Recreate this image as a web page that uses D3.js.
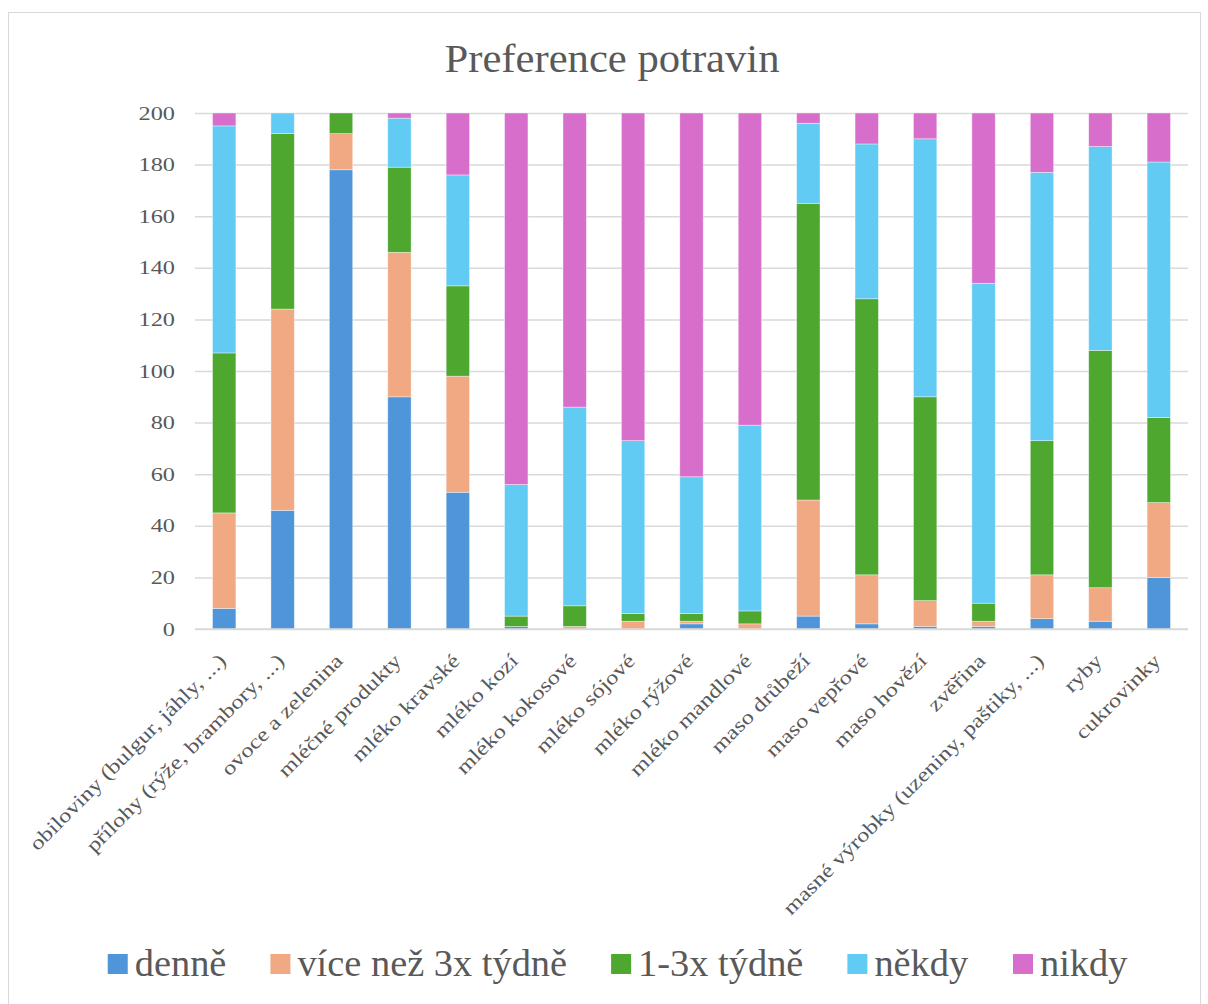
<!DOCTYPE html>
<html>
<head>
<meta charset="utf-8">
<script src="https://cdn.jsdelivr.net/npm/d3@7"></script>
<style>
  html, body { margin: 0; padding: 0; background: #fff; }
  svg { display: block; }
</style>
</head>
<body>
<svg id="chart" width="1208" height="1004"></svg>
<script>
const title = "Preference potravin";
const categories = [
  "obiloviny (bulgur, jáhly, ...)",
  "přílohy (rýže, brambory, ...)",
  "ovoce a zelenina",
  "mléčné produkty",
  "mléko kravské",
  "mléko kozí",
  "mléko kokosové",
  "mléko sójové",
  "mléko rýžové",
  "mléko mandlové",
  "maso drůbeží",
  "maso vepřové",
  "maso hovězí",
  "zvěřina",
  "masné výrobky (uzeniny, paštiky, ...)",
  "ryby",
  "cukrovinky"
];
const seriesNames = ["denně", "více než 3x týdně", "1-3x týdně", "někdy", "nikdy"];
const denne  = [8, 46, 178, 90, 53, 1, 0, 0, 2, 0, 5, 2, 1, 1, 4, 3, 20];
const vice   = [37, 78, 14, 56, 45, 0, 1, 3, 1, 2, 45, 19, 10, 2, 17, 13, 29];
const tyden  = [62, 68, 8, 33, 35, 4, 8, 3, 3, 5, 115, 107, 79, 7, 52, 92, 33];
const nekdy  = [88, 8, 0, 19, 43, 51, 77, 67, 53, 72, 31, 60, 100, 124, 104, 79, 99];
const nikdy  = [5, 0, 0, 2, 24, 144, 114, 127, 141, 121, 4, 12, 10, 66, 23, 13, 19];
const yTicks = [0, 20, 40, 60, 80, 100, 120, 140, 160, 180, 200];
const colors = ["#4E95D9", "#F1A983", "#4EA72E", "#61CBF3", "#D86ECC"];

const seriesValues = [denne, vice, tyden, nekdy, nikdy];
const keys = ["s0", "s1", "s2", "s3", "s4"];
const rows = categories.map((c, i) => {
  const r = { cat: c };
  keys.forEach((k, j) => r[k] = seriesValues[j][i]);
  return r;
});

const svg = d3.select("#chart");
const font = "'Liberation Serif', 'Times New Roman', serif";
const textColor = "#595959";

// chart border
svg.append("rect")
  .attr("x", 8.5).attr("y", 12.5)
  .attr("width", 1192).attr("height", 1000)
  .attr("fill", "none").attr("stroke", "#d9d9d9").attr("stroke-width", 1);

const plot = { left: 195, right: 1188, top: 113, bottom: 629 };

const x = d3.scaleBand()
  .domain(categories)
  .range([plot.left, plot.right])
  .paddingInner(0.6)
  .paddingOuter(0.3);

const y = d3.scaleLinear()
  .domain([0, 200])
  .range([plot.bottom, plot.top]);

// title
svg.append("text")
  .attr("x", 612).attr("y", 72)
  .attr("text-anchor", "middle")
  .attr("font-family", font)
  .attr("font-size", 40)
  .attr("textLength", 335)
  .attr("lengthAdjust", "spacingAndGlyphs")
  .attr("fill", textColor)
  .text(title);

// gridlines + y labels
const yAxis = d3.axisLeft(y)
  .tickValues(yTicks)
  .tickSize(-(plot.right - plot.left))
  .tickPadding(0)
  .tickFormat(d3.format("d"));

const gy = svg.append("g")
  .attr("transform", `translate(${plot.left},0)`)
  .call(yAxis);
gy.select(".domain").remove();
gy.selectAll(".tick line")
  .attr("stroke", "#d9d9d9")
  .attr("stroke-width", 1.5);
gy.selectAll(".tick text")
  .attr("x", null)
  .attr("transform", "translate(-20,0) scale(1.28,1)")
  .attr("font-family", font)
  .attr("font-size", 19)
  .attr("fill", textColor);

// bars
const stacked = d3.stack().keys(keys)(rows);

svg.append("g")
  .selectAll("g")
  .data(stacked)
  .join("g")
  .attr("fill", (d, i) => colors[i])
  .selectAll("rect")
  .data(d => d)
  .join("rect")
  .attr("x", d => x(d.data.cat))
  .attr("width", x.bandwidth())
  .attr("y", d => y(d[1]))
  .attr("height", d => Math.max(0, y(d[0]) - y(d[1])))
  .attr("stroke", "#ffffff")
  .attr("stroke-opacity", 0.5)
  .attr("stroke-width", 0.75);

// baseline on top
svg.append("line")
  .attr("x1", plot.left).attr("x2", plot.right)
  .attr("y1", y(0)).attr("y2", y(0))
  .attr("stroke", "#d9d9d9").attr("stroke-width", 1.5);

// x category labels (rotated -45)
svg.append("g")
  .selectAll("text")
  .data(categories)
  .join("text")
  .attr("transform", d => `translate(${x(d) + x.bandwidth() / 2 + 3},${plot.bottom + 33}) rotate(-45) scale(1.22,1)`)
  .attr("text-anchor", "end")
  .attr("font-family", font)
  .attr("font-size", 20)
  .attr("fill", textColor)
  .text(d => d);

// legend
const legendY = 965;
const items = svg.append("g")
  .selectAll("g")
  .data(seriesNames)
  .join("g");
items.append("rect")
  .attr("width", 20).attr("height", 20)
  .attr("y", legendY - 11)
  .attr("fill", (d, i) => colors[i]);
items.append("text")
  .attr("x", 27)
  .attr("y", legendY + 11)
  .attr("font-family", font)
  .attr("font-size", 38.4)
  .attr("fill", textColor)
  .text(d => d);
const widths = [];
items.each(function () { widths.push(this.getBBox().width); });
const gap = 44;
const total = d3.sum(widths) + gap * (widths.length - 1);
let cx = 618 - total / 2;
items.attr("transform", (d, i) => {
  const t = `translate(${cx},0)`;
  cx += widths[i] + gap;
  return t;
});
</script>
</body>
</html>
